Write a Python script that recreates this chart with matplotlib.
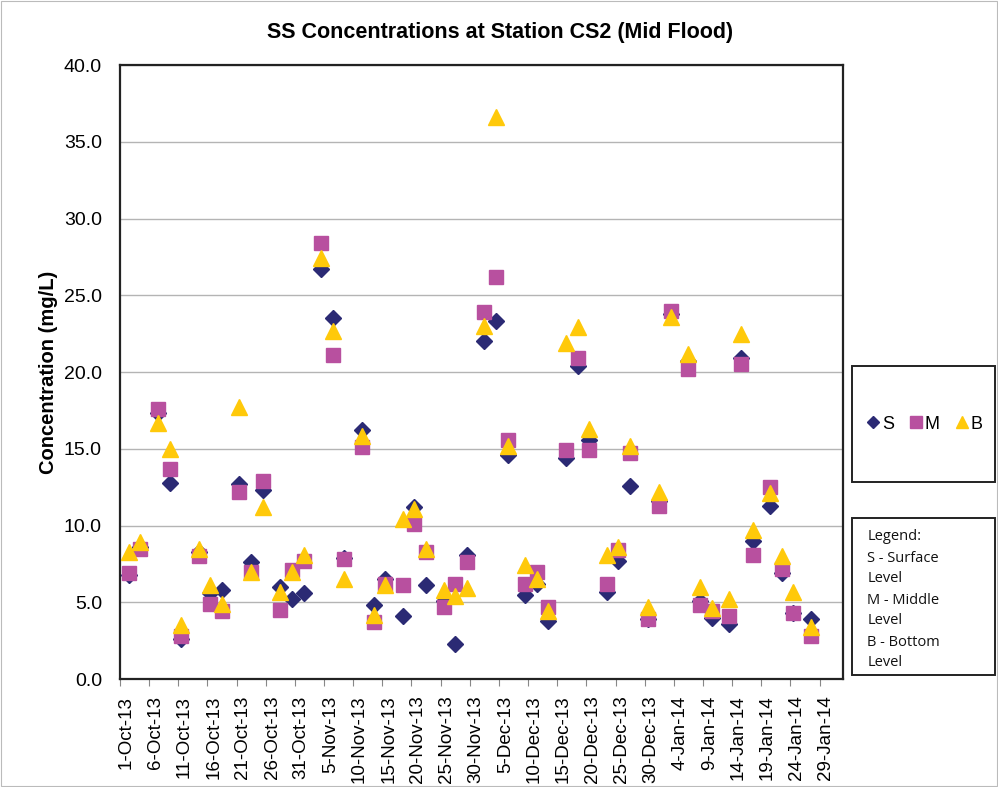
import datetime as dt

import matplotlib
matplotlib.use("Agg")
import matplotlib.pyplot as plt
from matplotlib.patches import Rectangle
from matplotlib.lines import Line2D

plt.rcParams["font.family"] = ["Liberation Sans", "DejaVu Sans"]

# sampling dates (days after 1-Oct-13)
day_offsets = [1, 3, 6, 8, 10, 13, 15, 17, 20, 22, 24, 27, 29, 31, 34, 36, 38,
               41, 43, 45, 48, 50, 52, 55, 57, 59, 62, 64, 66, 69, 71, 73,
               76, 78, 80, 83, 85, 87, 90, 92, 94, 97, 99, 101, 104, 106, 108,
               111, 113, 115, 118]

surface = [6.8, 8.6, 17.3, 12.8, 2.6, 8.3, 5.6, 5.8, 12.7, 7.6, 12.3, 6.0, 5.2,
           5.6, 26.7, 23.5, 7.9, 16.2, 4.8, 6.5, 4.1, 11.2, 6.1, 5.1, 2.3, 8.1,
           22.0, 23.3, 14.6, 5.5, 6.2, 3.8, 14.4, 20.4, 15.6, 5.7, 7.7, 12.6,
           3.9, 11.6, 23.8, 20.7, 5.1, 4.0, 3.6, 20.9, 9.0, 11.3, 6.9, 4.3, 3.9]
middle = [6.9, 8.5, 17.6, 13.7, 2.8, 8.0, 4.9, 4.4, 12.2, 7.0, 12.9, 4.5, 7.1,
          7.7, 28.4, 21.1, 7.8, 15.1, 3.7, 6.2, 6.1, 10.1, 8.3, 4.7, 6.2, 7.6,
          23.9, 26.2, 15.6, 6.2, 7.0, 4.7, 14.9, 20.9, 14.9, 6.2, 8.4, 14.7,
          3.9, 11.3, 24.0, 20.2, 4.8, 4.4, 4.1, 20.5, 8.1, 12.5, 7.2, 4.3, 2.8]
bottom = [8.3, 8.9, 16.7, 15.0, 3.5, 8.5, 6.1, 4.9, 17.7, 7.0, 11.2, 5.7, 7.0,
          8.1, 27.4, 22.7, 6.5, 15.8, 4.2, 6.1, 10.4, 11.1, 8.5, 5.8, 5.4, 5.9,
          23.0, 36.6, 15.2, 7.4, 6.5, 4.4, 21.9, 22.9, 16.3, 8.1, 8.6, 15.2,
          4.7, 12.2, 23.6, 21.2, 6.0, 4.6, 5.2, 22.5, 9.7, 12.1, 8.0, 5.7, 3.4]

start = dt.datetime(2013, 10, 1)
# points sit in the middle of their day slot
dates = [start + dt.timedelta(days=d, hours=12) for d in day_offsets]
tick_dates = [start + dt.timedelta(days=5 * k) for k in range(25)]
label_pos = [d + dt.timedelta(hours=26) for d in tick_dates]

fig = plt.figure(figsize=(9.98, 7.87), dpi=100)
ax = fig.add_axes([0.1202, 0.1372, 0.7244, 0.7802])

ax.plot(dates, surface, linestyle="none", marker="D", markersize=8,
        color="#2B2A74", zorder=3)
ax.plot(dates, middle, linestyle="none", marker="s", markersize=10,
        color="#B8509F", zorder=4)
ax.plot(dates, bottom, linestyle="none", marker="^", markersize=11,
        color="#FFC90A", zorder=5)

ax.set_ylim(0, 40)
ax.set_yticks([5 * k for k in range(9)])
ax.set_yticklabels([f"{5 * k:.1f}" for k in range(9)], fontsize=14)
ax.set_xlim(start, start + dt.timedelta(days=124))
# tick marks on day boundaries, labels a little to the right of them
ax.set_xticks(tick_dates)
ax.set_xticklabels([""] * len(tick_dates))
ax.set_xticks(label_pos, minor=True)
ax.set_xticklabels([f"{d.day}-{d.strftime('%b-%y')}" for d in tick_dates],
                   minor=True, rotation=90, fontsize=13.5)

ax.grid(axis="y", color="#B4B4B4", linewidth=1)
ax.set_axisbelow(True)
ax.tick_params(axis="x", which="major", direction="out", length=5, color="#888888")
ax.tick_params(axis="x", which="minor", length=0, pad=12)
ax.tick_params(axis="y", length=0, pad=13)
for sp in ax.spines.values():
    sp.set_color("#222222")
    sp.set_linewidth(1.6)

ax.set_ylabel("Concentration (mg/L)", fontsize=14.5, fontweight="bold", labelpad=4)
fig.text(0.501, 0.959, "SS Concentrations at Station CS2 (Mid Flood)",
         ha="center", va="center", fontsize=15.5, fontweight="bold")

# legend box with markers
fig.add_artist(Rectangle((0.8537, 0.3875), 0.1433, 0.1474, transform=fig.transFigure,
                         fill=False, edgecolor="#222222", linewidth=1.4))
handles = [Line2D([], [], linestyle="none", marker="D", markersize=6, color="#2B2A74"),
           Line2D([], [], linestyle="none", marker="s", markersize=8, color="#B8509F"),
           Line2D([], [], linestyle="none", marker="^", markersize=9, color="#FFC90A")]
fig.legend(handles, ["S", "M", "B"], loc="center", ncol=3, frameon=False,
           bbox_to_anchor=(0.9253, 0.4612), fontsize=13, handletextpad=0.0,
           columnspacing=0.7, handlelength=1.0)

# explanation box
fig.add_artist(Rectangle((0.8537, 0.1423), 0.1433, 0.1995, transform=fig.transFigure,
                         fill=False, edgecolor="#222222", linewidth=1.4))
notes = ["Legend:", "S - Surface", "Level", "M - Middle", "Level", "B - Bottom", "Level"]
for i, line in enumerate(notes):
    fig.text(0.869, 1 - (537 + 21 * i) / 787, line, ha="left", va="center",
             fontsize=10.5, family=["Open Sans", "DejaVu Sans"], color="#111111")

# thin frame round the whole chart
fig.add_artist(Rectangle((0.001, 0.001), 0.998, 0.998, transform=fig.transFigure,
                         fill=False, edgecolor="#BBBBBB", linewidth=0.8))

fig.savefig("out.png", dpi=100)
